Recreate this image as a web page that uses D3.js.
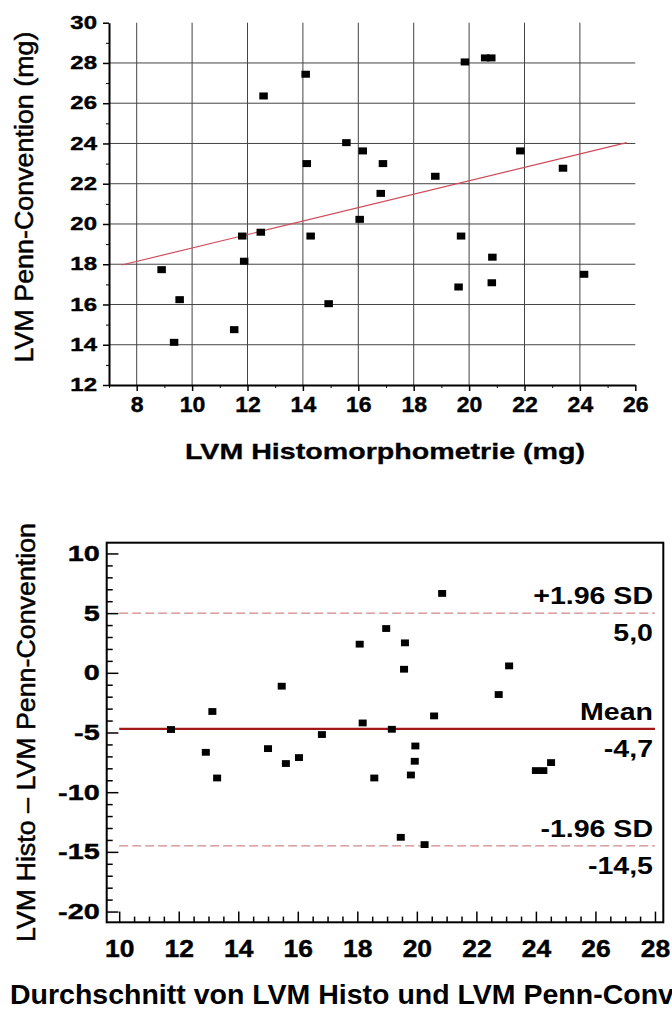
<!DOCTYPE html>
<html lang="de">
<head>
<meta charset="utf-8" />
<script src="https://cdn.jsdelivr.net/npm/d3@7"></script>
<style>
  body { margin: 0; background: #fff; }
  svg { display: block; font-family: 'Liberation Sans', Arial, sans-serif; }
</style>
</head>
<body>
<div id="chart"></div>
<script>
// --- top chart: LVM Histomorphometrie vs LVM Penn-Convention ---
var histo = [8.9, 9.55, 9.35, 11.52, 11.81, 11.88, 12.48, 14.28, 14.93, 12.58, 14.1, 14.14,
  15.57, 16.16, 16.89, 16.81, 16.05, 18.78, 19.85, 20.58, 20.8, 21.85, 23.39, 19.71,
  20.84, 19.62, 20.82, 24.15];
var penn = [17.73, 16.24, 14.12, 14.75, 19.4, 18.15, 19.59, 19.4, 16.04, 26.36, 27.44, 23.0,
  24.04, 23.63, 23.0, 21.52, 20.23, 22.37, 28.05, 28.25, 28.25, 23.63, 22.77, 19.4,
  18.35, 16.87, 17.08, 17.5];
var fitX = [7.46, 25.69];
var fitY = [17.96, 24.04];
var topXTicks = [8, 10, 12, 14, 16, 18, 20, 22, 24, 26];
var topYTicks = [12, 14, 16, 18, 20, 22, 24, 26, 28, 30];

// --- bottom chart: Bland-Altman ---
var avg = [11.74, 13.13, 12.91, 15.46, 15.0, 15.6, 16.04, 16.81, 13.29, 20.85, 18.97, 18.08,
  19.6, 19.57, 23.1, 22.75, 20.58, 18.18, 19.16, 19.95, 19.93, 24.51, 18.57, 19.8,
  24.0, 24.25, 19.46, 20.26];
var diff = [-4.75, -3.24, -6.66, -1.12, -6.35, -7.6, -7.1, -5.17, -8.81, 6.65, 3.71, 2.4,
  2.51, 0.3, 0.58, -1.82, -3.61, -4.2, -4.73, -6.13, -7.41, -7.52, -8.81, -8.56,
  -8.19, -8.19, -13.78, -14.39];
var limitVals = [5.0, -4.7, -14.5];
var limitNames = ['+1.96 SD', 'Mean', '-1.96 SD'];
var limitText = ['5,0', '-4,7', '-14,5'];
var botXTicks = [10, 12, 14, 16, 18, 20, 22, 24, 26, 28];
var botYTicks = [-20, -15, -10, -5, 0, 5, 10];

var width = 672, height = 1010;

var svg = d3.select('#chart').append('svg')
  .attr('width', width)
  .attr('height', height);

// plain hyphen instead of d3's unicode minus
var fmt = function(d) { return String(d); };

// stretch text horizontally, the source picture is wider than normal glyphs
function stretch(sel, sx) {
  sel.each(function() {
    var w = this.getComputedTextLength();
    d3.select(this).attr('textLength', w * sx).attr('lengthAdjust', 'spacingAndGlyphs');
  });
}

// slightly heavier strokes like the scanned original
function heavy(sel, w) {
  sel.attr('stroke', '#000').attr('stroke-width', w);
}

/* ---------- top chart ---------- */
var x1 = d3.scaleLinear().domain([7, 26]).range([109, 635.3]);
var y1 = d3.scaleLinear().domain([12, 30]).range([385, 22.7]);

var g1 = svg.append('g');

g1.selectAll('.hgrid')
  .data(topYTicks.filter(function(d) { return d > 12 && d < 30; }))
  .enter().append('line')
  .attr('x1', x1(7)).attr('x2', x1(26))
  .attr('y1', function(d) { return y1(d); })
  .attr('y2', function(d) { return y1(d); })
  .attr('stroke', '#444').attr('stroke-width', 1);

g1.selectAll('.vgrid')
  .data(topXTicks.filter(function(d) { return d < 26; }))
  .enter().append('line')
  .attr('y1', y1(30)).attr('y2', y1(12))
  .attr('x1', function(d) { return x1(d); })
  .attr('x2', function(d) { return x1(d); })
  .attr('stroke', '#444').attr('stroke-width', 1);

// minor ticks
g1.append('g').attr('transform', 'translate(' + x1(7) + ',0)')
  .call(d3.axisLeft(y1).tickValues(d3.range(13, 30, 2)).tickSize(3).tickSizeOuter(0).tickFormat(''))
  .call(function(a) { a.select('.domain').remove(); });
g1.append('g').attr('transform', 'translate(0,' + y1(12) + ')')
  .call(d3.axisBottom(x1).tickValues(d3.range(7, 26, 2)).tickSize(3).tickSizeOuter(0).tickFormat(''))
  .call(function(a) { a.select('.domain').remove(); });

var yAx1 = g1.append('g').attr('transform', 'translate(' + x1(7) + ',0)')
  .call(d3.axisLeft(y1).tickValues(topYTicks).tickSize(6).tickSizeOuter(0).tickPadding(6).tickFormat(fmt));
var xAx1 = g1.append('g').attr('transform', 'translate(0,' + y1(12) + ')')
  .call(d3.axisBottom(x1).tickValues(topXTicks).tickSize(6).tickSizeOuter(0).tickFormat(fmt));

[yAx1, xAx1].forEach(function(a) {
  a.select('.domain').attr('stroke-width', 2);
  a.selectAll('line').attr('stroke-width', 1.5);
});
yAx1.selectAll('text').attr('font-size', 18).attr('font-weight', 'bold').attr('fill', '#000')
  .attr('font-family', null).call(heavy, 0.4).call(stretch, 1.33);
xAx1.selectAll('text').attr('font-size', 21.5).attr('font-weight', 'bold').attr('fill', '#000')
  .attr('font-family', null).attr('y', 26.5).attr('dy', null).call(heavy, 0.4).call(stretch, 1.07);
g1.selectAll('.tick line, .domain').attr('stroke', '#000');

g1.append('line')
  .attr('x1', x1(fitX[0])).attr('y1', y1(fitY[0]))
  .attr('x2', x1(fitX[1])).attr('y2', y1(fitY[1]))
  .attr('stroke', '#d04a5a').attr('stroke-width', 1.2);

g1.selectAll('.pt')
  .data(histo)
  .enter().append('rect')
  .attr('x', function(d) { return x1(d) - 4.25; })
  .attr('y', function(d, i) { return y1(penn[i]) - 3.5; })
  .attr('width', 8.5).attr('height', 7)
  .attr('fill', '#000');

g1.append('text')
  .attr('transform', 'translate(33,197) rotate(-90)')
  .attr('text-anchor', 'middle')
  .attr('font-size', 26.5)
  .attr('textLength', 331).attr('lengthAdjust', 'spacingAndGlyphs')
  .call(heavy, 0.5)
  .text('LVM Penn-Convention (mg)');

g1.append('text')
  .attr('x', 185).attr('y', 459)
  .attr('font-size', 21.4).attr('font-weight', 'bold')
  .attr('textLength', 400).attr('lengthAdjust', 'spacingAndGlyphs')
  .call(heavy, 0.3)
  .text('LVM Histomorphometrie (mg)');

/* ---------- bottom chart ---------- */
var x2 = d3.scaleLinear().domain([9.58, 28.28]).range([106.7, 663.3]);
var y2 = d3.scaleLinear().domain([-20.9, 10.9]).range([922.3, 542.7]);

var g2 = svg.append('g');

g2.append('g').attr('transform', 'translate(' + x2.range()[0] + ',0)')
  .call(d3.axisLeft(y2).tickValues(d3.range(-20, 11, 1).filter(function(d) { return d % 5 !== 0; }))
    .tickSize(-6).tickSizeOuter(0).tickFormat(''))
  .call(function(a) { a.select('.domain').remove(); });
g2.append('g').attr('transform', 'translate(0,' + y2.range()[0] + ')')
  .call(d3.axisBottom(x2).tickValues(d3.range(10, 28.01, 0.5).filter(function(d) { return d % 2 !== 0; }))
    .tickSize(-5.7).tickSizeOuter(0).tickFormat(''))
  .call(function(a) { a.select('.domain').remove(); });

var yAx2 = g2.append('g').attr('transform', 'translate(' + x2.range()[0] + ',0)')
  .call(d3.axisLeft(y2).tickValues(botYTicks).tickSize(-11.7).tickSizeOuter(0).tickPadding(7).tickFormat(fmt));
var xAx2 = g2.append('g').attr('transform', 'translate(0,' + y2.range()[0] + ')')
  .call(d3.axisBottom(x2).tickValues(botXTicks).tickSize(-10.7).tickSizeOuter(0).tickFormat(fmt));
yAx2.select('.domain').remove();
xAx2.select('.domain').remove();
g2.selectAll('.tick line').attr('stroke', '#000').attr('stroke-width', 1.5);
yAx2.selectAll('text').attr('font-size', 21.5).attr('font-weight', 'bold').attr('fill', '#000')
  .attr('font-family', null).call(heavy, 0.4).call(stretch, 1.34);
xAx2.selectAll('text').attr('font-size', 23).attr('font-weight', 'bold').attr('fill', '#000')
  .attr('font-family', null).attr('y', 34.4).attr('dy', null).call(heavy, 0.4).call(stretch, 1.15);

g2.append('rect')
  .attr('x', x2.range()[0]).attr('y', y2.range()[1])
  .attr('width', x2.range()[1] - x2.range()[0])
  .attr('height', y2.range()[0] - y2.range()[1])
  .attr('fill', 'none').attr('stroke', '#000').attr('stroke-width', 2);

g2.selectAll('.lim')
  .data(limitVals)
  .enter().append('line')
  .attr('x1', x2(10)).attr('x2', x2(28))
  .attr('y1', function(d) { return y2(d); })
  .attr('y2', function(d) { return y2(d); })
  .attr('stroke', function(d, i) { return i === 1 ? '#a01818' : '#c46a6a'; })
  .attr('stroke-width', function(d, i) { return i === 1 ? 2.2 : 1; })
  .attr('stroke-dasharray', function(d, i) { return i === 1 ? null : '9,4'; });

g2.selectAll('.pt')
  .data(avg)
  .enter().append('rect')
  .attr('x', function(d) { return x2(d) - 4; })
  .attr('y', function(d, i) { return y2(diff[i]) - 3.4; })
  .attr('width', 8).attr('height', 6.8)
  .attr('fill', '#000');

g2.selectAll('.limName')
  .data(limitVals)
  .enter().append('text')
  .attr('x', 653).attr('y', function(d) { return y2(d) - 9; })
  .attr('text-anchor', 'end').attr('font-size', 23).attr('font-weight', 'bold')
  .text(function(d, i) { return limitNames[i]; })
  .call(stretch, 1.24);

g2.selectAll('.limVal')
  .data(limitVals)
  .enter().append('text')
  .attr('x', 653).attr('y', function(d) { return y2(d) + 28; })
  .attr('text-anchor', 'end').attr('font-size', 23).attr('font-weight', 'bold')
  .text(function(d, i) { return limitText[i]; })
  .call(stretch, 1.24);

g2.append('text')
  .attr('transform', 'translate(35,732.5) rotate(-90)')
  .attr('text-anchor', 'middle')
  .attr('font-size', 26.5)
  .attr('textLength', 419).attr('lengthAdjust', 'spacingAndGlyphs')
  .call(heavy, 0.5)
  .text('LVM Histo \u2013 LVM Penn-Convention');

// the source image cuts this label off at the right edge
g2.append('text')
  .attr('x', 10).attr('y', 1004)
  .attr('font-size', 28.5).attr('font-weight', 'bold')
  .text('Durchschnitt von LVM Histo und LVM Penn-Convention');
</script>
</body>
</html>
